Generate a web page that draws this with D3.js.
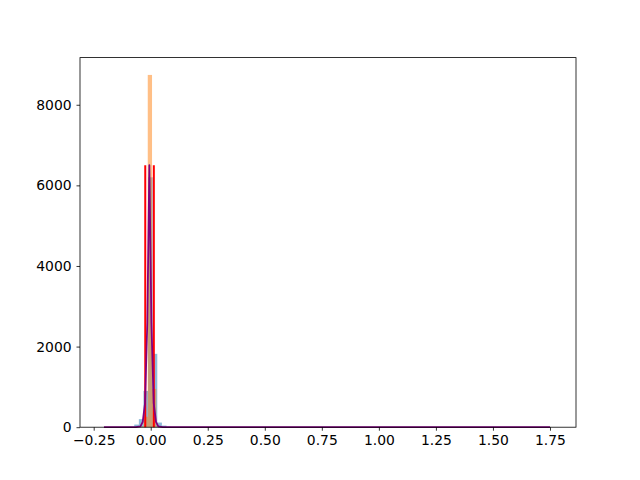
<!DOCTYPE html>
<html>
<head>
<meta charset="utf-8">
<script src="https://cdn.jsdelivr.net/npm/d3@7"></script>
<style>
  body { margin: 0; background: #fff; }
  svg text { font-family: "DejaVu Sans", sans-serif; }
</style>
</head>
<body>
<svg id="vis" width="640" height="480"></svg>
<script>
// histogram of the first series (blue), bin edges and counts
var blueEdges = [-0.0924, -0.0722, -0.052, -0.0318, -0.0116, 0.0086, 0.0288, 0.049, 0.0692, 0.0894];
var blueCounts = [12, 65, 200, 900, 6200, 1820, 115, 40, 8];

// histogram of the second series (orange)
var orangeEdges = [-0.0506, -0.0318, -0.013, 0.0057, 0.0245, 0.0433];
var orangeCounts = [20, 260, 8740, 950, 30];

// fitted curve (purple)
var curveX = [-0.205, -0.065, -0.045, -0.035, -0.025, -0.015, -0.006, 0.003, 0.013, 0.023, 0.033, 0.053, 1.75];
var curveY = [0, 0, 20, 130, 600, 2600, 6500, 2600, 600, 130, 20, 0, 0];

// vertical red markers
var markerX = [-0.024, 0.0136];
var markerTop = 6500;

var xTicks = [-0.25, 0, 0.25, 0.5, 0.75, 1.0, 1.25, 1.5, 1.75];
var yTicks = [0, 2000, 4000, 6000, 8000];

var margin = {left: 80, right: 64, top: 57.6, bottom: 52.8};
var W = 640, H = 480;
var svg = d3.select("#vis");

var x = d3.scaleLinear().domain([-0.31, 1.864]).range([margin.left, W - margin.right]);
var y = d3.scaleLinear().domain([0, 9170]).range([H - margin.bottom, margin.top]);

var fmtX = function(d) { return d3.format(".2f")(d).replace("-", "\u2212"); };

// blue bars
var blueBins = blueCounts.map(function(c, i) { return {x0: blueEdges[i], x1: blueEdges[i + 1], n: c}; });
svg.append("g").selectAll("rect")
  .data(blueBins)
  .enter().append("rect")
  .attr("x", function(d) { return x(d.x0); })
  .attr("width", function(d) { return x(d.x1) - x(d.x0); })
  .attr("y", function(d) { return y(d.n); })
  .attr("height", function(d) { return y(0) - y(d.n); })
  .attr("fill", "#1f77b4")
  .attr("fill-opacity", 0.5);

// orange bars
var orangeBins = orangeCounts.map(function(c, i) { return {x0: orangeEdges[i], x1: orangeEdges[i + 1], n: c}; });
svg.append("g").selectAll("rect")
  .data(orangeBins)
  .enter().append("rect")
  .attr("x", function(d) { return x(d.x0); })
  .attr("width", function(d) { return x(d.x1) - x(d.x0); })
  .attr("y", function(d) { return y(d.n); })
  .attr("height", function(d) { return y(0) - y(d.n); })
  .attr("fill", "#ff7f0e")
  .attr("fill-opacity", 0.5);

// red lines
svg.append("g").selectAll("line")
  .data(markerX)
  .enter().append("line")
  .attr("x1", function(d) { return x(d); })
  .attr("x2", function(d) { return x(d); })
  .attr("y1", y(0))
  .attr("y2", y(markerTop))
  .attr("stroke", "red")
  .attr("stroke-width", 2);

// purple curve
var line = d3.line()
  .x(function(d) { return x(d[0]); })
  .y(function(d) { return y(d[1]); });
svg.append("path")
  .datum(d3.zip(curveX, curveY))
  .attr("d", line)
  .attr("fill", "none")
  .attr("stroke", "purple")
  .attr("stroke-width", 1.8)
  .attr("stroke-linejoin", "round");

// axes
var xAxis = svg.append("g")
  .attr("transform", "translate(0," + y(0) + ")")
  .call(d3.axisBottom(x).tickValues(xTicks).tickFormat(fmtX).tickSize(3.5).tickPadding(4.9).tickSizeOuter(0));
var yAxis = svg.append("g")
  .attr("transform", "translate(" + margin.left + ",0)")
  .call(d3.axisLeft(y).tickValues(yTicks).tickFormat(d3.format("d")).tickSize(3.5).tickPadding(4.9).tickSizeOuter(0));

[xAxis, yAxis].forEach(function(a) {
  a.select(".domain").remove();
  a.selectAll("text").attr("font-size", "13.9px").attr("font-family", "DejaVu Sans").attr("fill", "#000");
  a.selectAll("line").attr("stroke", "#000").attr("stroke-width", 0.8);
});

// frame
svg.append("rect")
  .attr("x", margin.left)
  .attr("y", margin.top)
  .attr("width", W - margin.left - margin.right)
  .attr("height", H - margin.top - margin.bottom)
  .attr("fill", "none")
  .attr("stroke", "#000")
  .attr("stroke-width", 0.8);
</script>
</body>
</html>
